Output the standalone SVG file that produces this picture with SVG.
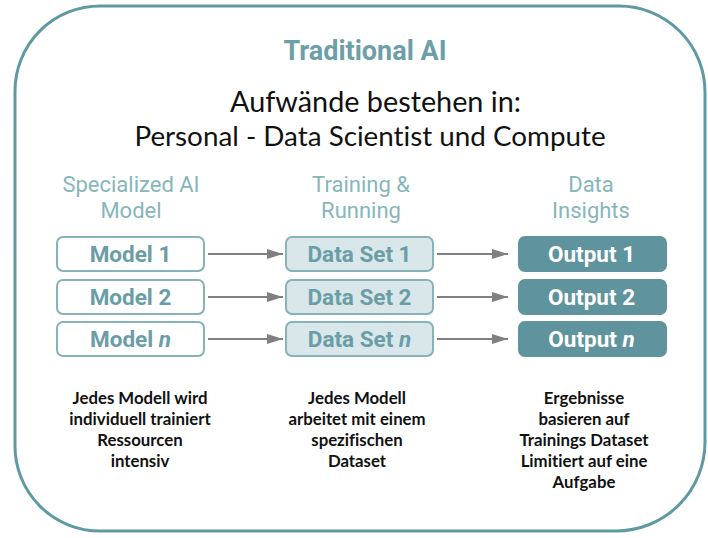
<svg xmlns="http://www.w3.org/2000/svg" width="708" height="538" viewBox="0 0 708 538">
  <defs>
    <marker id="arrow" viewBox="0 0 16 10" refX="16" refY="5" markerWidth="16" markerHeight="10" markerUnits="userSpaceOnUse" orient="auto">
      <path d="M0,0 L16,5 L0,10 z" fill="#808080"/>
    </marker>
  </defs>
  <style>
    text { font-variant-ligatures: none; }
    .frame { fill: #ffffff; stroke: #5f9aa3; stroke-width: 3; }
    .title { font-family: Roboto, "Liberation Sans", sans-serif; font-weight: bold; font-size: 27px; fill: #6c9fa7; text-anchor: middle; }
    .sub { font-family: Lato, "Liberation Sans", sans-serif; fill: #111111; text-anchor: middle; }
    .head { font-family: Roboto, "Liberation Sans", sans-serif; font-size: 22px; fill: #86b6bb; text-anchor: middle; }
    .box-model { fill: #ffffff; stroke: #86b2b8; stroke-width: 2; }
    .box-data { fill: #d9e7ea; stroke: #86b2b8; stroke-width: 2; }
    .box-out { fill: #5f939d; stroke: #5f939d; stroke-width: 2; }
    .lbl { font-family: Roboto, "Liberation Sans", sans-serif; font-weight: bold; font-size: 22.5px; text-anchor: middle; }
    .lbl-teal { fill: #6a9ea6; }
    .lbl-white { fill: #ffffff; }
    .edge { stroke: #808080; stroke-width: 2; fill: none; marker-end: url(#arrow); }
    .note { font-family: Lato, "Liberation Sans", sans-serif; font-weight: bold; font-size: 16.8px; fill: #111111; text-anchor: middle; }
  </style>

  <!-- outer frame -->
  <path class="frame" d="M100,6 L619,6 A86,86 0 0 1 705,92 L705,442 A89,89 0 0 1 616,531 L100,531 A85,85 0 0 1 15,446 L15,91 A85,85 0 0 1 100,6 Z"/>

  <!-- headings -->
  <text class="title" x="365" y="60">Traditional AI</text>
  <text class="sub" x="375.5" y="112" font-size="28.8">Aufwände bestehen in:</text>
  <text class="sub" x="370" y="146" font-size="27.8">Personal - Data Scientist und Compute</text>

  <!-- column headers -->
  <text class="head" x="131" y="192">Specialized AI</text>
  <text class="head" x="131" y="218">Model</text>
  <text class="head" x="361" y="192">Training &amp;</text>
  <text class="head" x="361" y="218">Running</text>
  <text class="head" x="591" y="192">Data</text>
  <text class="head" x="591" y="218">Insights</text>

  <!-- model nodes -->
  <g id="model-1">
    <rect class="box-model" x="57" y="237" width="147" height="34" rx="6"/>
    <text class="lbl lbl-teal" x="130.5" y="262">Model 1</text>
  </g>
  <g id="model-2">
    <rect class="box-model" x="57" y="280" width="147" height="34" rx="6"/>
    <text class="lbl lbl-teal" x="130.5" y="305">Model 2</text>
  </g>
  <g id="model-n">
    <rect class="box-model" x="57" y="322" width="147" height="34" rx="6"/>
    <text class="lbl lbl-teal" x="130.5" y="347">Model <tspan font-style="italic">n</tspan></text>
  </g>

  <!-- data set nodes -->
  <g id="dataset-1">
    <rect class="box-data" x="286" y="237" width="147" height="34" rx="6"/>
    <text class="lbl lbl-teal" x="359.5" y="262">Data Set 1</text>
  </g>
  <g id="dataset-2">
    <rect class="box-data" x="286" y="280" width="147" height="34" rx="6"/>
    <text class="lbl lbl-teal" x="359.5" y="305">Data Set 2</text>
  </g>
  <g id="dataset-n">
    <rect class="box-data" x="286" y="322" width="147" height="34" rx="6"/>
    <text class="lbl lbl-teal" x="359.5" y="347">Data Set <tspan font-style="italic">n</tspan></text>
  </g>

  <!-- output nodes -->
  <g id="output-1">
    <rect class="box-out" x="519" y="237" width="147" height="34" rx="6"/>
    <text class="lbl lbl-white" x="591.5" y="262">Output 1</text>
  </g>
  <g id="output-2">
    <rect class="box-out" x="519" y="280" width="147" height="34" rx="6"/>
    <text class="lbl lbl-white" x="591.5" y="305">Output 2</text>
  </g>
  <g id="output-n">
    <rect class="box-out" x="519" y="322" width="147" height="34" rx="6"/>
    <text class="lbl lbl-white" x="591.5" y="347">Output <tspan font-style="italic">n</tspan></text>
  </g>

  <!-- connectors -->
  <g id="connectors">
    <line class="edge" x1="208" y1="254" x2="283" y2="254"/>
    <line class="edge" x1="208" y1="297" x2="283" y2="297"/>
    <line class="edge" x1="208" y1="339" x2="283" y2="339"/>
    <line class="edge" x1="437" y1="254" x2="508" y2="254"/>
    <line class="edge" x1="437" y1="297" x2="508" y2="297"/>
    <line class="edge" x1="437" y1="339" x2="508" y2="339"/>
  </g>

  <!-- notes -->
  <text class="note" x="140" y="404">Jedes Modell wird</text>
  <text class="note" x="140" y="425">individuell trainiert</text>
  <text class="note" x="140" y="446">Ressourcen</text>
  <text class="note" x="140" y="467">intensiv</text>

  <text class="note" x="357" y="404">Jedes Modell</text>
  <text class="note" x="357" y="425">arbeitet mit einem</text>
  <text class="note" x="357" y="446">spezifischen</text>
  <text class="note" x="357" y="467">Dataset</text>

  <text class="note" x="584" y="404">Ergebnisse</text>
  <text class="note" x="584" y="425">basieren auf</text>
  <text class="note" x="584" y="446">Trainings Dataset</text>
  <text class="note" x="584" y="467">Limitiert auf eine</text>
  <text class="note" x="584" y="488">Aufgabe</text>
</svg>
